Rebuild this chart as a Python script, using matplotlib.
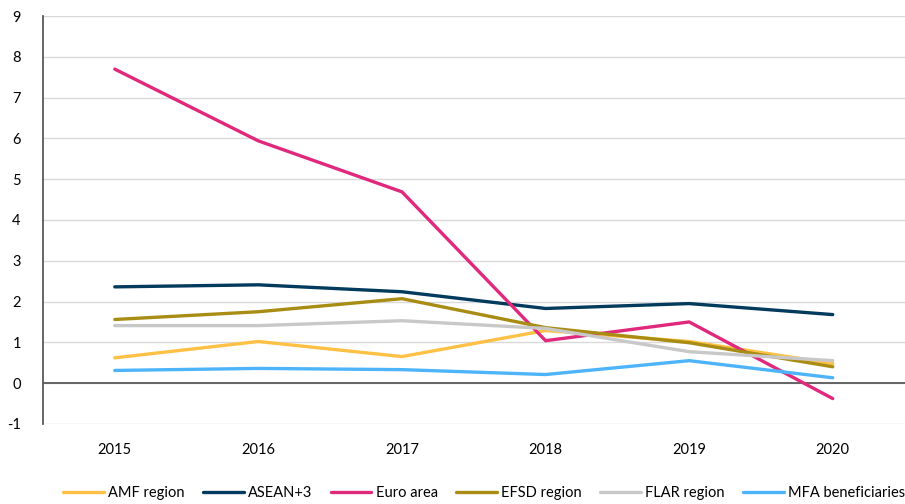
import matplotlib
matplotlib.use("Agg")
from matplotlib import pyplot as plt
import numpy as np

years = ["2015", "2016", "2017", "2018", "2019", "2020"]
amf = [0.62, 1.02, 0.65, 1.29, 1.02, 0.48]
asean = [2.36, 2.41, 2.24, 1.83, 1.95, 1.68]
euro = [7.70, 5.94, 4.69, 1.04, 1.50, -0.38]
efsd = [1.56, 1.75, 2.07, 1.36, 0.99, 0.40]
flar = [1.41, 1.41, 1.53, 1.34, 0.77, 0.55]
mfa = [0.31, 0.36, 0.33, 0.21, 0.55, 0.13]

series = [
    ("AMF region", amf, "#FFC145"),
    ("ASEAN+3", asean, "#003A5D"),
    ("Euro area", euro, "#E0287D"),
    ("EFSD region", efsd, "#A88C14"),
    ("FLAR region", flar, "#C8C8C8"),
    ("MFA beneficiaries", mfa, "#4DB4FA"),
]

plt.rcParams['font.family'] = ['Lato', 'DejaVu Sans']
plt.rcParams['axes.unicode_minus'] = False

fig = plt.figure(figsize=(9.05, 5.04), dpi=100)
ax = fig.add_axes([0.0475, 0.159, 0.952, 0.809])

x = np.arange(len(years))
for name, vals, col in series:
    ax.plot(x, vals, color=col, lw=2.4, label=name, solid_capstyle='round')

ax.set_xlim(-0.5, len(years) - 0.5)
ax.set_ylim(-1, 9)
ax.set_yticks(range(-1, 10))
ax.set_xticks(x)
ax.set_xticklabels(years)
ax.yaxis.grid(True, color="#D9D9D9", lw=1)
ax.set_axisbelow(True)
ax.axhline(0, color="#595959", lw=1.3, zorder=1.5)

for s in ["top", "right", "bottom"]:
    ax.spines[s].set_visible(False)
ax.spines["left"].set_color("#595959")
ax.spines["left"].set_linewidth(1.3)
ax.tick_params(axis="both", length=0, labelsize=10.5, colors="black")
ax.tick_params(axis="x", pad=14)
ax.tick_params(axis="y", pad=16)

ax.legend(loc="center", bbox_to_anchor=(0.512, -0.17), ncol=6, frameon=False,
          fontsize=10.5, handlelength=2.8, columnspacing=1.25, handletextpad=0.3)

fig.savefig("out.png", dpi=100)
